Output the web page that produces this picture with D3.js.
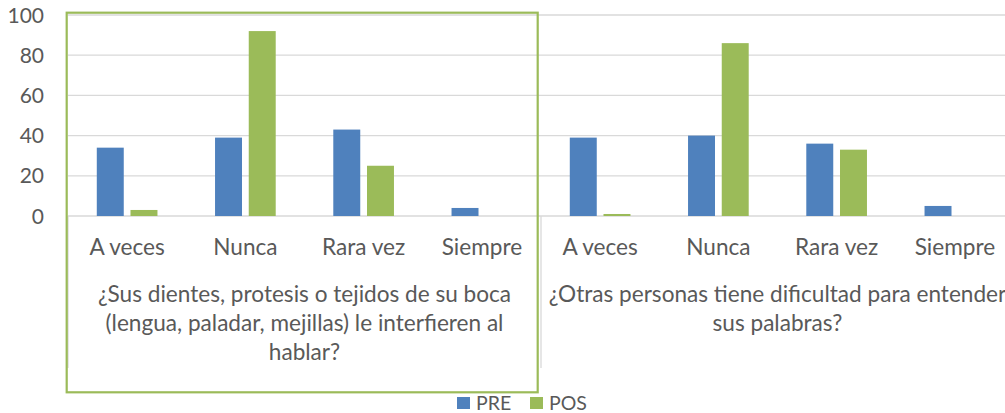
<!DOCTYPE html>
<html>
<head>
<meta charset="utf-8">
<script src="https://cdn.jsdelivr.net/npm/d3@7"></script>
<style>
  body { margin: 0; background: #fff; }
  svg { display: block; font-family: Lato, "Open Sans", sans-serif; }
</style>
</head>
<body>
<svg width="1005" height="413"></svg>
<script>
// data
var groups = ["g1", "g2"];
var groupTitles = [
  ["¿Sus dientes, protesis o tejidos de su boca", "(lengua, paladar, mejillas) le interfieren al", "hablar?"],
  ["¿Otras personas tiene dificultad para entender", "sus palabras?"]
];
var categories = ["A veces", "Nunca", "Rara vez", "Siempre"];
var series = ["PRE", "POS"];
var preValues = [[34, 39, 43, 4], [39, 40, 36, 5]];
var posValues = [[3, 92, 25, 0], [1, 86, 33, 0]];
var yTicks = [0, 20, 40, 60, 80, 100];
var colors = {PRE: "#4f81bd", POS: "#9bbb59"};

var svg = d3.select("svg"),
    width = +svg.attr("width"),
    height = +svg.attr("height");

var plot = {left: 68, right: 1014, top: 15, bottom: 216};
var textColor = "#595959";

var y = d3.scaleLinear().domain([0, 100]).range([plot.bottom, plot.top]);

var xGroup = d3.scaleBand().domain(groups).range([plot.left, plot.right]);
var xCat = d3.scaleBand().domain(categories).range([0, xGroup.bandwidth()]);
var xSeries = d3.scaleBand().domain(series).range([0, xCat.bandwidth()])
    .paddingInner(0.2).paddingOuter(0.854);

// gridlines
svg.append("g").selectAll("line")
    .data(yTicks)
    .enter().append("line")
    .attr("x1", plot.left)
    .attr("x2", width)
    .attr("y1", function (d) { return y(d); })
    .attr("y2", function (d) { return y(d); })
    .style("stroke", "#d9d9d9")
    .style("stroke-width", 1.3);

// y tick labels
svg.append("g").selectAll("text")
    .data(yTicks)
    .enter().append("text")
    .attr("x", 44)
    .attr("y", function (d) { return y(d); })
    .attr("dy", "0.36em")
    .attr("text-anchor", "end")
    .style("font-size", "21px")
    .style("fill", textColor)
    .text(function (d) { return d; });

// group separators (multi level axis)
var seps = [plot.left].concat(groups.map(function (g) { return xGroup(g) + xGroup.bandwidth(); }));
svg.append("g").selectAll("line")
    .data(seps)
    .enter().append("line")
    .attr("x1", function (d) { return d; })
    .attr("x2", function (d) { return d; })
    .attr("y1", plot.bottom)
    .attr("y2", 368)
    .style("stroke", "#d9d9d9")
    .style("stroke-width", 1.3);

// rows of bar data
var rows = [];
groups.forEach(function (g, gi) {
  categories.forEach(function (c, ci) {
    rows.push({group: g, cat: c, series: "PRE", value: preValues[gi][ci]});
    rows.push({group: g, cat: c, series: "POS", value: posValues[gi][ci]});
  });
});

svg.append("g").selectAll("rect")
    .data(rows.filter(function (d) { return d.value > 0; }))
    .enter().append("rect")
    .attr("x", function (d) { return xGroup(d.group) + xCat(d.cat) + xSeries(d.series); })
    .attr("y", function (d) { return y(d.value); })
    .attr("width", xSeries.bandwidth())
    .attr("height", function (d) { return y(0) - y(d.value); })
    .style("fill", function (d) { return colors[d.series]; });

// category labels
groups.forEach(function (g) {
  svg.append("g").selectAll("text")
      .data(categories)
      .enter().append("text")
      .attr("x", function (d) { return xGroup(g) + xCat(d) + xCat.bandwidth() / 2; })
      .attr("y", 255)
      .attr("text-anchor", "middle")
      .style("font-size", "22.6px")
      .style("fill", textColor)
      .text(function (d) { return d; });
});

// group titles
groups.forEach(function (g, gi) {
  svg.append("g").selectAll("text")
      .data(groupTitles[gi])
      .enter().append("text")
      .attr("x", xGroup(g) + xGroup.bandwidth() / 2)
      .attr("y", function (d, i) { return 302 + i * 29; })
      .attr("text-anchor", "middle")
      .style("font-size", "22.6px")
      .style("fill", textColor)
      .text(function (d) { return d; });
});

// green highlight box around first group
svg.append("rect")
    .attr("x", 66.7)
    .attr("y", 12.7)
    .attr("width", 471)
    .attr("height", 379.6)
    .style("fill", "none")
    .style("stroke", "#9bbb59")
    .style("stroke-width", 2.2);

// legend
var legend = svg.append("g").selectAll("g")
    .data(series)
    .enter().append("g")
    .attr("transform", function (d, i) { return "translate(" + (457 + i * 73) + ",397)"; });

legend.append("rect")
    .attr("width", 13)
    .attr("height", 12)
    .style("fill", function (d) { return colors[d]; });

legend.append("text")
    .attr("x", 19)
    .attr("y", 12.5)
    .style("font-size", "19.5px")
    .style("fill", textColor)
    .text(function (d) { return d; });
</script>
</body>
</html>
